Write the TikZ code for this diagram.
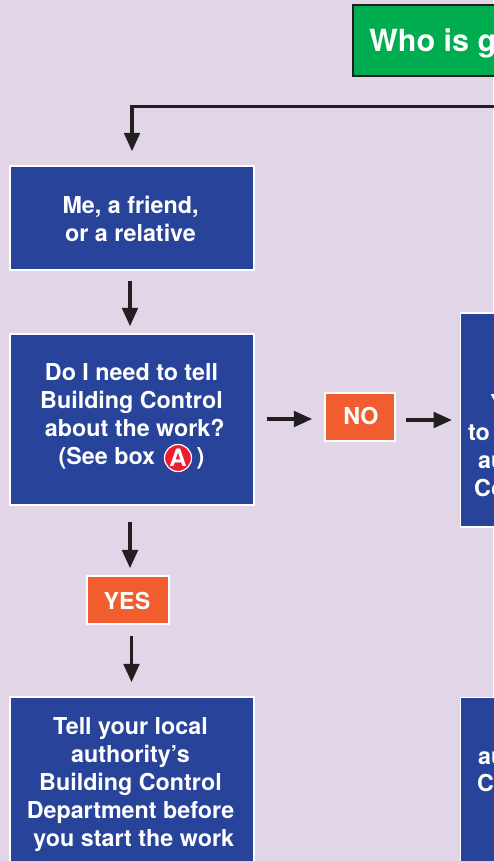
\documentclass[tikz,border=0pt]{standalone}
\usepackage{fontspec}
\setmainfont{TeX Gyre Heros}
\usetikzlibrary{arrows.meta}
\definecolor{bgcol}{HTML}{E1D5E7}
\definecolor{bluecol}{HTML}{28439A}
\definecolor{orangecol}{HTML}{F15D2F}
\definecolor{greencol}{HTML}{00AC50}
\definecolor{inkcol}{HTML}{231F20}
\definecolor{redcol}{HTML}{ED1C2E}
\tikzset{
  x=1pt,y=-1pt,
  bluebox/.style={draw=white,line width=1.4pt,fill=bluecol,inner sep=0pt,minimum width=244pt},
  boxtext/.style={text=white,font=\fontsize{23.3}{28}\selectfont\bfseries,align=center,inner sep=0pt},
  sidebox/.style={draw=white,line width=1.4pt,fill=bluecol,inner sep=0pt,minimum width=100pt},
  answer/.style={draw=white,line width=1.4pt,fill=orangecol,inner sep=0pt},
  sidetext/.style={text=white,font=\fontsize{23.3}{28}\selectfont\bfseries,inner sep=0pt,anchor=base west},
  flow/.style={draw=inkcol,line width=3.8pt,-{Triangle[length=18.5pt,width=15.5pt]}},
}
\begin{document}
\begin{tikzpicture}
\useasboundingbox (0,0) rectangle (493,861);
\fill[bgcol] (0,0) rectangle (493,861);
\node[draw=inkcol,line width=1.6pt,fill=greencol,inner sep=0pt,minimum width=200pt,minimum height=71pt,anchor=west] (who) at (352,40.5) {};
\node[text=white,font=\fontsize{30.5}{34}\selectfont\bfseries,inner sep=0pt,anchor=base west] (whotext) at (369,52) {Who is g};
\coordinate (topright) at (500,106.5);
\node[bluebox,minimum height=104pt] (me) at (132,218) {};
\node[boxtext] (metext) at (130.5,218.5) {Me, a friend,\\or a relative};
\node[bluebox,minimum height=171pt] (need) at (132,419.5) {};
\node[boxtext] (needtext) at (131.5,416.5) {Do I need to tell\\Building Control\\\ about the work?\\(See box \hspace{35pt})};
\node[circle,draw=white,line width=1.2pt,fill=redcol,text=white,inner sep=0pt,minimum size=27pt,font=\fontsize{24}{24}\selectfont\bfseries] (boxa) at (178,458) {A};
\node[bluebox,minimum height=176pt] (tell) at (132,785) {};
\node[boxtext] (telltext) at (130.5,785) {Tell your local\\authority’s\\Building Control\\Department before\\\ you start the work};
\node[answer,minimum width=70pt,minimum height=48pt] (no) at (360,417) {};
\node[boxtext] (notext) at (361,416.5) {NO};
\node[answer,minimum width=82pt,minimum height=48pt] (yes) at (128,600) {};
\node[boxtext] (yestext) at (127,601) {YES};
\node[sidebox,minimum height=214pt,anchor=west] (rone) at (460,420) {};
\node[sidebox,minimum height=200pt,anchor=north west] (rtwo) at (460,697) {};
\node[sidetext] (r1) at (490,411) {Y};
\node[sidetext] (r2) at (468,440) {to};
\node[sidetext] (r3) at (478,468) {au};
\node[sidetext] (r4) at (474,496) {Co};
\node[sidetext] (r5) at (478,764) {au};
\node[sidetext] (r6) at (477,791) {C};
\draw[flow] (topright) -| ([yshift=14pt]me.north);
\draw[flow] ([xshift=-2pt,yshift=-10pt]me.south) -- ([xshift=-2pt,yshift=7pt]need.north);
\draw[flow] ([xshift=12pt,yshift=0.5pt]need.east) -- ([xshift=-12pt,yshift=-2pt]no.west);
\draw[flow] ([xshift=10pt,yshift=-3pt]no.east) -- ([xshift=-8pt]rone.west);
\draw[flow] ([xshift=-2pt,yshift=-16pt]need.south) -- ([xshift=2pt,yshift=7pt]yes.north);
\draw[flow] ([xshift=3.5pt,yshift=-11pt]yes.south) -- ([xshift=-0.5pt,yshift=14pt]tell.north);
\end{tikzpicture}
\end{document}
